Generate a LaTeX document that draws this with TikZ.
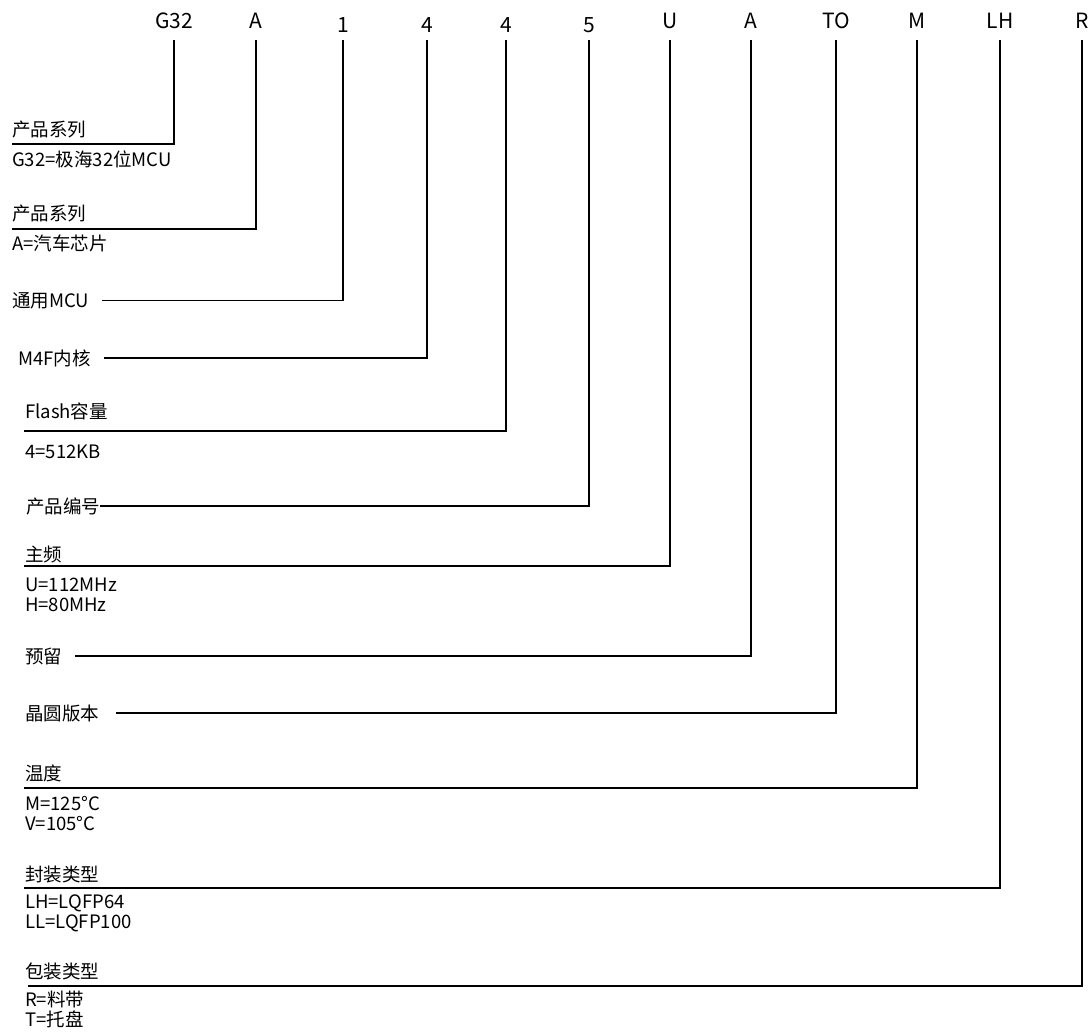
\documentclass[tikz,border=0pt]{standalone}
\usepackage{fontspec}
\newfontfamily\cjk{Noto Sans CJK SC}

\begin{document}
\begin{tikzpicture}[x=1pt,y=-1pt,
	code/.style={font=\cjk\fontsize{21}{21}\selectfont,anchor=base,inner sep=0pt},
	desc/.style={font=\cjk\fontsize{18.5}{20}\selectfont,anchor=base west,inner sep=0pt,align=left},
	lead/.style={line width=1.2pt}]
	\useasboundingbox (0,0) rectangle (1089,1031);
	\coordinate (rowline) at (0,40);
	% part number code
	\node[code] (c1) at (174,28) {G32};
	\node[code] (c2) at (256,28) {A};
	\node[code] (c3) at (343,32) {1};
	\node[code] (c4) at (427,32) {4};
	\node[code] (c5) at (506,32) {4};
	\node[code] (c6) at (589,32) {5};
	\node[code] (c7) at (670,28) {U};
	\node[code] (c8) at (751,28) {A};
	\node[code] (c9) at (836,28) {TO};
	\node[code] (c10) at (917,28) {M};
	\node[code] (c11) at (1000,28) {LH};
	\node[code] (c12) at (1082,28) {R};
	% descriptions (two-line nodes sit on the baseline of their last line)
	\coordinate (l1) at (12,144);
	\node[desc] (t1) at (12,136) {产品系列};
	\node[desc] (v1) at (12,166) {G32=极海32位MCU};
	\coordinate (l2) at (12,229);
	\node[desc] (t2) at (12,220) {产品系列};
	\node[desc] (v2) at (12,250) {A=汽车芯片};
	\node[desc] (d3) at (12,307) {通用MCU};
	\node[desc] (d4) at (18,365) {M4F内核};
	\coordinate (l5) at (24,431);
	\node[desc] (t5) at (25,418) {Flash容量};
	\node[desc] (v5) at (25,458) {4=512KB};
	\node[desc] (d6) at (26,513) {产品编号};
	\coordinate (l7) at (24,566);
	\node[desc] (t7) at (25,561) {主频};
	\node[desc] (v7) at (25,611) {U=112MHz\\H=80MHz};
	\node[desc] (d8) at (25,663) {预留};
	\node[desc] (d9) at (25,720) {晶圆版本};
	\coordinate (l10) at (24,788);
	\node[desc] (t10) at (25,780) {温度};
	\node[desc] (v10) at (25,830) {M=125°C\\V=105°C};
	\coordinate (l11) at (24,888);
	\node[desc] (t11) at (25,881) {封装类型};
	\node[desc] (v11) at (25,928) {LH=LQFP64\\LL=LQFP100};
	\coordinate (l12) at (28,986);
	\node[desc] (t12) at (25,978) {包装类型};
	\node[desc] (v12) at (25,1026) {R=料带\\T=托盘};
	% leader lines
	\draw[lead] (c1 |- rowline) |- (l1);
	\draw[lead] (c2 |- rowline) |- (l2);
	\draw[lead] (c3 |- rowline) |- ([xshift=13pt]d3.east);
	\draw[lead] (c4 |- rowline) |- ([xshift=13pt]d4.east);
	\draw[lead] (c5 |- rowline) |- (l5);
	\draw[lead] (c6 |- rowline) |- (d6.east);
	\draw[lead] (c7 |- rowline) |- (l7);
	\draw[lead] (c8 |- rowline) |- ([xshift=13pt]d8.east);
	\draw[lead] (c9 |- rowline) |- ([xshift=17pt]d9.east);
	\draw[lead] (c10 |- rowline) |- (l10);
	\draw[lead] (c11 |- rowline) |- (l11);
	\draw[lead] (c12 |- rowline) |- (l12);
\end{tikzpicture}
\end{document}
